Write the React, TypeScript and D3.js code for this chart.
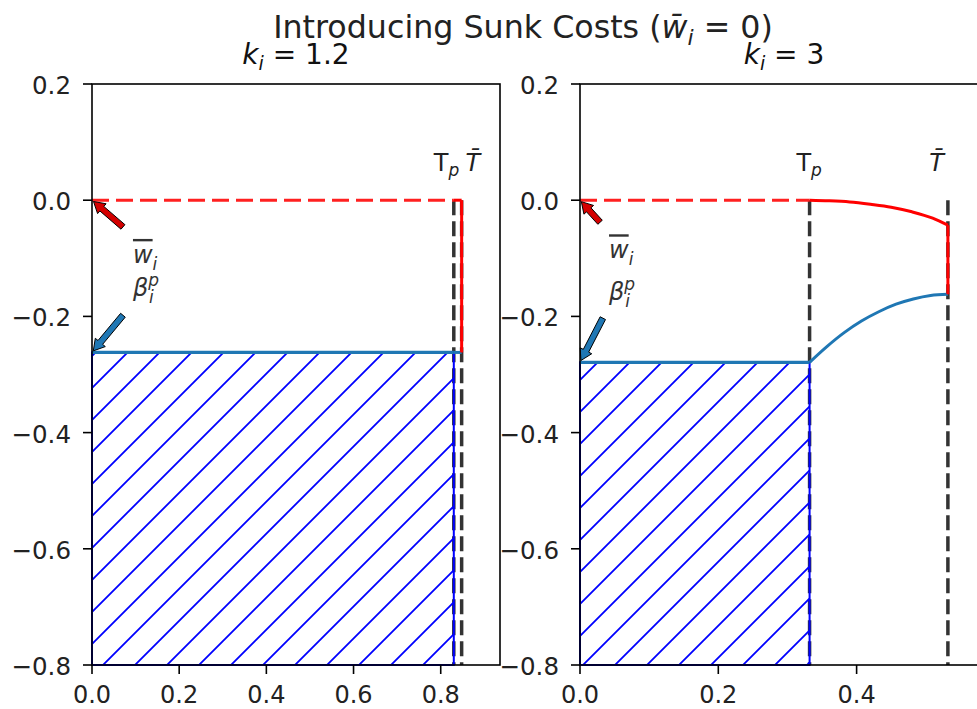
import React from "react";
import * as d3 from "d3";

// per-panel parameters (left: k=1.2, right: k=3)
const kLabels = ["1.2", "3"];
const tpValues = [0.83, 0.332];
const tbarValues = [0.848, 0.532];
const betaValues = [-0.262, -0.279];
const xMaxValues = [0.936, 0.59];

const yTickValues = [0.2, 0.0, -0.2, -0.4, -0.6, -0.8];
const xTickValues = [
  [0, 0.2, 0.4, 0.6, 0.8],
  [0, 0.2, 0.4],
];

// wage (red) and beta (blue) paths between Tp and Tbar
const redCurveX = [
  [0.83, 0.848],
  [0.332, 0.36, 0.39, 0.42, 0.45, 0.48, 0.51, 0.532],
];
const redCurveY = [
  [0, 0],
  [0, -0.001, -0.003, -0.007, -0.012, -0.02, -0.031, -0.043],
];
const blueCurveX = [
  [0.83, 0.848],
  [0.332, 0.357, 0.382, 0.407, 0.432, 0.457, 0.482, 0.507, 0.532],
];
const blueCurveY = [
  [-0.262, -0.262],
  [-0.279, -0.252, -0.228, -0.208, -0.192, -0.179, -0.17, -0.164, -0.162],
];

// annotation anchors (data coords)
const wLabelPos = [[0.094, -0.108], [0.042, -0.1]];
const betaLabelPos = [[0.094, -0.165], [0.042, -0.172]];
const wArrowTail = [[0.071, -0.046], [0.029, -0.038]];
const betaArrowTail = [[0.071, -0.198], [0.033, -0.203]];
const tpLabelX = [0.784, 0.313];
const tbarLabelX = [0.857, 0.505];

const W = 977;
const H = 709;
const panelLeft = [92, 580];
const panelWidth = 408;
const top = 84;
const bottom = 665;
const font = "DejaVu Sans, sans-serif";
const blue = "#1f77b4";
const fmt = d3.format(".1f");

function arrowPath(x1: number, y1: number, x2: number, y2: number) {
  const dx = x2 - x1;
  const dy = y2 - y1;
  const L = Math.hypot(dx, dy);
  const ux = dx / L;
  const uy = dy / L;
  const nx = -uy;
  const ny = ux;
  const sw = 3, hw = 6.5, hl = 11;
  const tx = x2 - ux * 2, ty = y2 - uy * 2;
  const neckX = tx - ux * hl, neckY = ty - uy * hl;
  const pts = [
    [x1 + nx * sw, y1 + ny * sw],
    [neckX + nx * sw, neckY + ny * sw],
    [neckX + nx * hw, neckY + ny * hw],
    [tx, ty],
    [neckX - nx * hw, neckY - ny * hw],
    [neckX - nx * sw, neckY - ny * sw],
    [x1 - nx * sw, y1 - ny * sw],
  ];
  return "M" + pts.map((p) => p.join(",")).join("L") + "Z";
}

const Panel = ({ i }: { i: number }) => {
  const x0 = panelLeft[i];
  const tp = tpValues[i];
  const tbar = tbarValues[i];
  const beta = betaValues[i];
  const x = d3.scaleLinear().domain([0, xMaxValues[i]]).range([x0, x0 + panelWidth]);
  const y = d3.scaleLinear().domain([-0.8, 0.2]).range([bottom, top]);
  const line = d3
    .line<[number, number]>()
    .x((d) => x(d[0]))
    .y((d) => y(d[1]))
    .curve(d3.curveMonotoneX);
  const red = redCurveX[i].map((v, j) => [v, redCurveY[i][j]] as [number, number]);
  const bl = blueCurveX[i].map((v, j) => [v, blueCurveY[i][j]] as [number, number]);
  const redEnd = red[red.length - 1];
  const blueEnd = bl[bl.length - 1];

  return (
    <g>
      {/* dashed verticals at Tp and Tbar */}
      {[tp, tbar].map((t, j) => (
        <line
          key={j}
          x1={x(t)}
          x2={x(t)}
          y1={y(0)}
          y2={y(-0.8)}
          stroke="#333"
          strokeWidth={3.5}
          strokeDasharray="15,6"
        />
      ))}
      {/* hatched sunk-cost area */}
      <rect
        x={x(0)}
        y={y(beta)}
        width={x(tp) - x(0)}
        height={y(-0.8) - y(beta)}
        fill="url(#hatch)"
        stroke="#0000ff"
        strokeWidth={2}
      />
      {/* red dashed w=0 line */}
      <line x1={x(0)} x2={x(tp)} y1={y(0)} y2={y(0)} stroke="#ff2020" strokeWidth={3} strokeDasharray="17,7" />
      {/* beta line */}
      <line x1={x(0)} x2={x(tp)} y1={y(beta)} y2={y(beta)} stroke={blue} strokeWidth={3.2} />
      <path d={line(bl) || ""} fill="none" stroke={blue} strokeWidth={3} />
      <path d={line(red) || ""} fill="none" stroke="red" strokeWidth={3} />
      <line x1={x(redEnd[0])} x2={x(blueEnd[0])} y1={y(redEnd[1])} y2={y(blueEnd[1])} stroke="red" strokeWidth={3} />

      {/* arrows */}
      <path
        d={arrowPath(x(wArrowTail[i][0]), y(wArrowTail[i][1]), x(0), y(0))}
        fill="#d40000"
        stroke="#000"
        strokeWidth={1}
      />
      <path
        d={arrowPath(x(betaArrowTail[i][0]), y(betaArrowTail[i][1]), x(0), y(beta))}
        fill={blue}
        stroke="#000"
        strokeWidth={1}
      />

      {/* annotation text */}
      <text x={x(wLabelPos[i][0])} y={y(wLabelPos[i][1])} fontFamily={font} fontSize={24} fill="#333">
        <tspan fontStyle="italic" textDecoration="overline">w</tspan>
        <tspan fontStyle="italic" fontSize={17} dy={7}>i</tspan>
      </text>
      <text x={x(betaLabelPos[i][0])} y={y(betaLabelPos[i][1])} fontFamily={font} fontSize={24} fill="#333">
        <tspan fontStyle="italic">β</tspan>
        <tspan fontStyle="italic" fontSize={17} dy={-10}>p</tspan>
        <tspan fontStyle="italic" fontSize={17} dx={-10} dy={17}>i</tspan>
      </text>
      <text x={x(tpLabelX[i])} y={y(0.05)} fontFamily={font} fontSize={24} fill="#222">
        <tspan>T</tspan>
        <tspan fontStyle="italic" fontSize={17} dy={5}>p</tspan>
      </text>
      <text x={x(tbarLabelX[i])} y={y(0.05)} fontFamily={font} fontSize={24} fontStyle="italic" fill="#222">
        {"T\u0304"}
      </text>

      {/* subtitle */}
      <text x={x0 + panelWidth / 2} y={64} textAnchor="middle" fontFamily={font} fontSize={28} fill="#111">
        <tspan fontStyle="italic">k</tspan>
        <tspan fontStyle="italic" fontSize={19} dy={6}>i</tspan>
        <tspan dy={-6}>{" = " + kLabels[i]}</tspan>
      </text>

      {/* axes frame */}
      <rect x={x0} y={top} width={panelWidth} height={bottom - top} fill="none" stroke="#000" strokeWidth={1.6} />
      {yTickValues.map((v) => (
        <g key={v}>
          <line x1={x0 - 9} x2={x0} y1={y(v)} y2={y(v)} stroke="#000" strokeWidth={1.6} />
          <text
            x={x0 - 21}
            y={y(v) + 10}
            textAnchor="end"
            fontFamily={font}
            fontSize={24.5}
            fill="#222"
          >
            {fmt(v)}
          </text>
        </g>
      ))}
      {xTickValues[i].map((v) => (
        <g key={v}>
          <line x1={x(v)} x2={x(v)} y1={bottom} y2={bottom + 9} stroke="#000" strokeWidth={1.6} />
          <text x={x(v)} y={703} textAnchor="middle" fontFamily={font} fontSize={24} fill="#222">
            {fmt(v)}
          </text>
        </g>
      ))}
    </g>
  );
};

export default function App() {
  return (
    <svg
      width={W}
      height={H}
      style={{ position: "absolute", left: 0, top: 0, background: "#fff" }}
    >
      <defs>
        <pattern id="hatch" patternUnits="userSpaceOnUse" width={32} height={32}>
          <path d="M-8,8L8,-8M0,32L32,0M24,40L40,24" stroke="#0000ff" strokeWidth={1.8} />
        </pattern>
      </defs>
      <Panel i={0} />
      <Panel i={1} />
      <text x={523} y={38} textAnchor="middle" fontFamily={font} fontSize={31.7} fill="#222">
        <tspan>Introducing Sunk Costs (</tspan>
        <tspan fontStyle="italic">{"w\u0304"}</tspan>
        <tspan fontStyle="italic" fontSize={22} dy={7}>i</tspan>
        <tspan dy={-7}>{" = 0)"}</tspan>
      </text>
    </svg>
  );
}
